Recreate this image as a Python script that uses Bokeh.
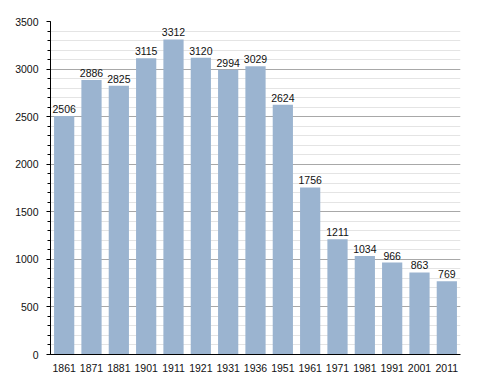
from bokeh.plotting import figure
from bokeh.models import ColumnDataSource, SingleIntervalTicker, Range1d, LabelSet
from bokeh.core.properties import value
from bokeh.embed import file_html
from bokeh.resources import INLINE

years = ["1861", "1871", "1881", "1901", "1911", "1921", "1931", "1936",
         "1951", "1961", "1971", "1981", "1991", "2001", "2011"]
population = [2506, 2886, 2825, 3115, 3312, 3120, 2994, 3029,
              2624, 1756, 1211, 1034, 966, 863, 769]

src = ColumnDataSource(dict(x=years, y=population, lab=[str(v) for v in population]))

p = figure(x_range=years, y_range=Range1d(0, 3500), output_backend="svg",
           toolbar_location=None, frame_width=410, frame_height=333,
           min_border_left=50, min_border_top=21, min_border_right=10, min_border_bottom=10)
p.outline_line_color = None
p.background_fill_color = "white"

p.vbar(x="x", top="y", width=0.74, source=src, fill_color="#9bb4d0", line_color=None)

labels = LabelSet(x="x", y="y", text="lab", source=src, text_align="center",
                  text_baseline="bottom", y_offset=3, text_font_size="10.5px",
                  text_font=value("Liberation Sans"), text_color="#111111")
p.add_layout(labels)

p.yaxis.ticker = SingleIntervalTicker(interval=500, num_minor_ticks=5)
p.ygrid.grid_line_color = "#a8a8a8"
p.ygrid.minor_grid_line_color = "#e4e4e4"
p.xgrid.grid_line_color = None

for ax in (p.xaxis[0], p.yaxis[0]):
    ax.axis_line_color = "black"
    ax.axis_line_width = 1
    ax.major_label_text_font = "Liberation Sans"
    ax.major_label_text_font_size = "10.5px"
    ax.major_label_text_color = "#111111"

p.yaxis.major_tick_in = 0
p.yaxis.major_tick_out = 4
p.yaxis.minor_tick_in = 0
p.yaxis.minor_tick_out = 3
p.yaxis.major_label_standoff = 8
p.xaxis.major_tick_line_color = None
p.xaxis.minor_tick_line_color = None
p.xaxis.major_label_standoff = 3

open("out.html", "w").write(file_html(p, INLINE))
